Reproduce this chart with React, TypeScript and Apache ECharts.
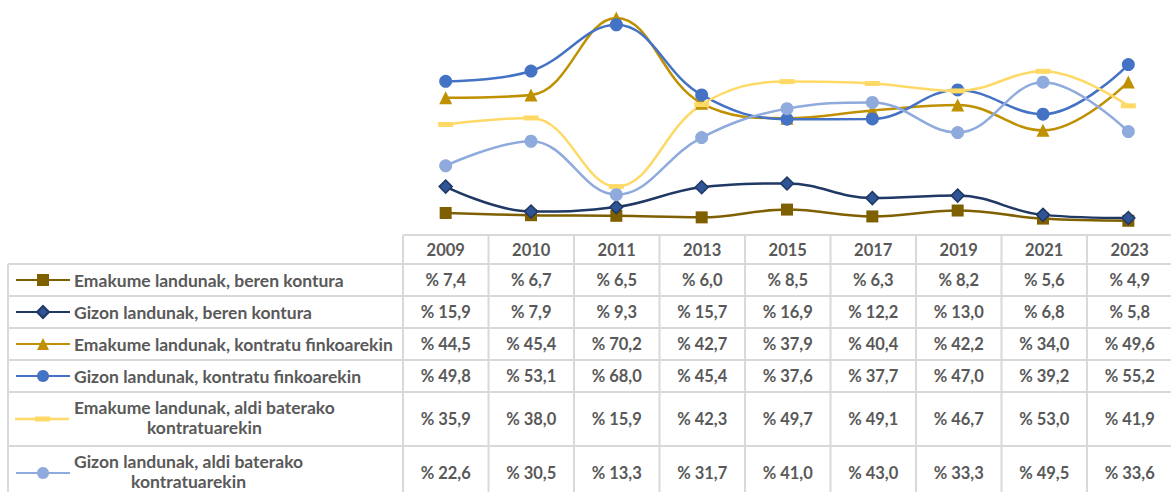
import { useEffect, useRef } from 'react';
import * as echarts from 'echarts';

// ---------- data ----------
const years = ['2009', '2010', '2011', '2013', '2015', '2017', '2019', '2021', '2023'];

const seriesNames = [
  'Emakume landunak, beren kontura',
  'Gizon landunak, beren kontura',
  'Emakume landunak, kontratu finkoarekin',
  'Gizon landunak, kontratu finkoarekin',
  'Emakume landunak, aldi baterako kontratuarekin',
  'Gizon landunak, aldi baterako kontratuarekin',
];

const rowLabels = [
  ['Emakume landunak, beren kontura'],
  ['Gizon landunak, beren kontura'],
  ['Emakume landunak, kontratu finkoarekin'],
  ['Gizon landunak, kontratu finkoarekin'],
  ['Emakume landunak, aldi baterako', 'kontratuarekin'],
  ['Gizon landunak, aldi baterako', 'kontratuarekin'],
];

const emakumeBeren = [7.4, 6.7, 6.5, 6.0, 8.5, 6.3, 8.2, 5.6, 4.9];
const gizonBeren = [15.9, 7.9, 9.3, 15.7, 16.9, 12.2, 13.0, 6.8, 5.8];
const emakumeFinko = [44.5, 45.4, 70.2, 42.7, 37.9, 40.4, 42.2, 34.0, 49.6];
const gizonFinko = [49.8, 53.1, 68.0, 45.4, 37.6, 37.7, 47.0, 39.2, 55.2];
const emakumeAldi = [35.9, 38.0, 15.9, 42.3, 49.7, 49.1, 46.7, 53.0, 41.9];
const gizonAldi = [22.6, 30.5, 13.3, 31.7, 41.0, 43.0, 33.3, 49.5, 33.6];

const seriesValues = [emakumeBeren, gizonBeren, emakumeFinko, gizonFinko, emakumeAldi, gizonAldi];

// ---------- styles & layout ----------
const FONT = 'Lato, "Liberation Sans", Arial, sans-serif';
const LABEL_SIZE = 17.5;
const VALUE_SIZE = 16.5;
const TEXT_COLOR = '#595959';
const BORDER = '#d9d9d9';

const TABLE_LEFT = 8;
const GRID_LEFT = 403;
const COL_W = 85.5;
const HEADER_TOP = 235;
const HEADER_H = 29;
const ROW_H = [32, 32, 32, 32, 54, 54];
const LABEL_X = 74;
const ICON_X = 15;
const ICON_W = 54;
const ICON_H = 15;
const LINE_H = 20;

const DASH_ICON = 'path://M0 6.25H54V8.75H0Z M20 5H35V10H20Z';

const seriesStyles: any[] = [
  { color: '#7F6000', symbol: 'rect', symbolSize: 12 },
  { color: '#1F3864', fill: '#2F5597', symbol: 'diamond', symbolSize: 13 },
  { color: '#BF9000', symbol: 'triangle', symbolSize: 13 },
  { color: '#4472C4', symbol: 'circle', symbolSize: 13 },
  { color: '#FFD966', symbol: 'rect', symbolSize: [15, 5], legendIcon: DASH_ICON },
  { color: '#8FAADC', symbol: 'circle', symbolSize: 13 },
];

const fmt = (v: number) => '% ' + v.toFixed(1).replace('.', ',');

function measure(text: string, size: number): number {
  const c = document.createElement('canvas').getContext('2d');
  if (!c) return text.length * 8;
  c.font = `bold ${size}px ${FONT}`;
  return c.measureText(text).width;
}

function buildOption() {
  const totalCols = years.length;
  const right = GRID_LEFT + COL_W * totalCols;
  const rowTops: number[] = [];
  let y = HEADER_TOP + HEADER_H;
  ROW_H.forEach((h) => {
    rowTops.push(y);
    y += h;
  });
  const bottom = y;

  const graphics: any[] = [];
  const lineStyle = { stroke: BORDER, lineWidth: 2 };

  // horizontal borders
  graphics.push({ type: 'line', shape: { x1: GRID_LEFT, y1: HEADER_TOP, x2: right, y2: HEADER_TOP }, style: lineStyle, silent: true });
  graphics.push({ type: 'line', shape: { x1: TABLE_LEFT, y1: HEADER_TOP + HEADER_H, x2: right, y2: HEADER_TOP + HEADER_H }, style: lineStyle, silent: true });
  rowTops.forEach((t, i) => {
    const yb = t + ROW_H[i];
    graphics.push({ type: 'line', shape: { x1: TABLE_LEFT, y1: yb, x2: right, y2: yb }, style: lineStyle, silent: true });
  });
  // vertical borders
  graphics.push({ type: 'line', shape: { x1: TABLE_LEFT, y1: HEADER_TOP + HEADER_H, x2: TABLE_LEFT, y2: bottom }, style: lineStyle, silent: true });
  for (let c = 0; c <= totalCols; c++) {
    const x = GRID_LEFT + c * COL_W;
    graphics.push({ type: 'line', shape: { x1: x, y1: HEADER_TOP, x2: x, y2: bottom }, style: lineStyle, silent: true });
  }

  const textStyle = (size: number, extra: any) => ({
    fill: TEXT_COLOR,
    font: `bold ${size}px ${FONT}`,
    ...extra,
  });

  // header
  years.forEach((yr, c) => {
    graphics.push({
      type: 'text',
      x: GRID_LEFT + (c + 0.5) * COL_W,
      y: HEADER_TOP + HEADER_H / 2,
      style: textStyle(VALUE_SIZE, { text: yr, align: 'center', verticalAlign: 'middle' }),
      silent: true,
    });
  });

  // rows
  seriesValues.forEach((vals, r) => {
    const cy = rowTops[r] + ROW_H[r] / 2;
    vals.forEach((v, c) => {
      graphics.push({
        type: 'text',
        x: GRID_LEFT + (c + 0.5) * COL_W,
        y: cy,
        style: textStyle(VALUE_SIZE, { text: fmt(v), align: 'center', verticalAlign: 'middle' }),
        silent: true,
      });
    });
    const lines = rowLabels[r];
    if (lines.length === 1) {
      graphics.push({
        type: 'text',
        x: LABEL_X,
        y: cy,
        style: textStyle(LABEL_SIZE, { text: lines[0], align: 'left', verticalAlign: 'middle' }),
        silent: true,
      });
    } else {
      const w = measure(lines[0], LABEL_SIZE);
      graphics.push({
        type: 'text',
        x: LABEL_X + w / 2,
        y: cy - 1.5,
        style: textStyle(LABEL_SIZE, { text: lines.join('\n'), align: 'center', verticalAlign: 'middle', lineHeight: LINE_H }),
        silent: true,
      });
    }
  });

  const legends = seriesNames.map((name, r) => {
    const st = seriesStyles[r];
    const cy = rowTops[r] + ROW_H[r] / 2;
    const item: any = { name };
    if (st.legendIcon) item.icon = st.legendIcon;
    const lg: any = {
      data: [item],
      left: ICON_X,
      top: cy - ICON_H / 2,
      itemWidth: ICON_W,
      itemHeight: ICON_H,
      padding: 0,
      itemGap: 0,
      selectedMode: false,
      formatter: () => '',
      textStyle: { fontSize: 1 },
    };
    if (st.legendIcon) lg.itemStyle = { color: st.color, borderWidth: 0 };
    return lg;
  });

  const series = seriesNames.map((name, r) => {
    const st = seriesStyles[r];
    return {
      name,
      type: 'line',
      data: seriesValues[r],
      smooth: 0.4,
      color: st.fill || st.color,
      symbol: st.symbol,
      symbolSize: st.symbolSize,
      lineStyle: { color: st.color, width: 2.5 },
      itemStyle: st.fill
        ? { color: st.fill, borderColor: st.color, borderWidth: 1.5 }
        : { color: st.color, borderWidth: 0 },
      emphasis: { disabled: true },
    };
  });

  return {
    animation: false,
    backgroundColor: '#ffffff',
    grid: { left: GRID_LEFT, top: 3, width: COL_W * totalCols, height: 233, containLabel: false },
    xAxis: { type: 'category', data: years, boundaryGap: true, show: false },
    yAxis: { type: 'value', min: 0, max: 75, show: false, splitLine: { show: false } },
    legend: legends,
    tooltip: { show: false },
    series,
    graphic: graphics,
  };
}

export default function App() {
  const ref = useRef<HTMLDivElement>(null);
  useEffect(() => {
    document.body.style.margin = '0';
    if (!ref.current) return;
    const chart = echarts.init(ref.current, undefined, { renderer: 'svg' });
    chart.setOption(buildOption() as any);
    return () => chart.dispose();
  }, []);
  return <div ref={ref} style={{ width: 1171, height: 492, background: '#fff', overflow: 'hidden' }} />;
}
